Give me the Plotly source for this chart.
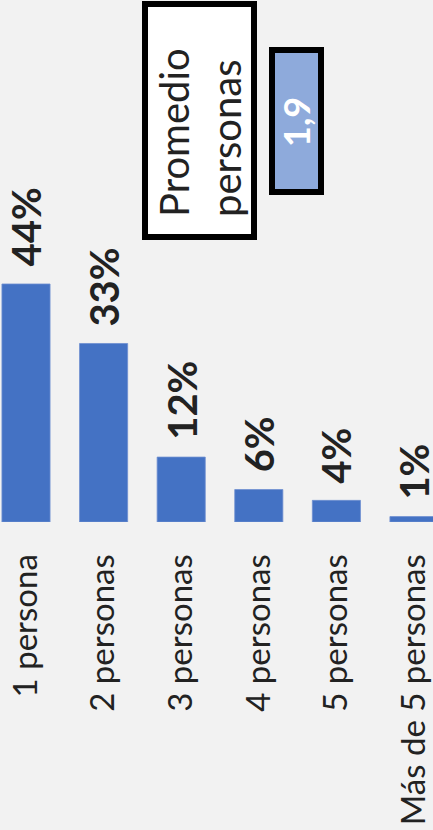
import plotly.graph_objects as go

categories = ["1 persona", "2 personas", "3 personas", "4 personas", "5 personas", "Más de 5 personas"]
values = [0.44, 0.33, 0.12, 0.06, 0.04, 0.01]
average_label = "Promedio<br>personas"
average_value = "1,9"

W, H = 433, 830
BOTTOM = 308
PH = H - BOTTOM
FONT = "Lato, 'Open Sans', sans-serif"
TXT = "#222222"

fig = go.Figure(go.Bar(
    x=categories, y=values,
    marker=dict(color="#4472C4", line=dict(color="#6f8fd0", width=0.8)),
    hoverinfo="skip",
))

for c, v in zip(categories, values):
    fig.add_annotation(x=c, y=v, xref="x", yref="y", text=f"<b>{round(v*100)}%</b>",
                       textangle=-90, showarrow=False, yanchor="bottom", xanchor="center",
                       yshift=15, font=dict(family=FONT, size=40, color=TXT))

def px(x):
    return x / W

def py(y):
    return 1 - y / PH

fig.add_shape(type="rect", xref="paper", yref="paper", x0=px(145), x1=px(254), y0=py(4), y1=py(237),
              fillcolor="white", line=dict(color="black", width=6), layer="above")
fig.add_shape(type="rect", xref="paper", yref="paper", x0=px(272), x1=px(321), y0=py(50), y1=py(192),
              fillcolor="#8EAADB", line=dict(color="black", width=6), layer="above")
fig.add_annotation(xref="paper", yref="paper", x=px(200), y=py(133), text=average_label,
                   textangle=-90, align="left", showarrow=False, xanchor="center", yanchor="middle",
                   font=dict(family=FONT, size=40, color=TXT))
fig.add_annotation(xref="paper", yref="paper", x=px(296), y=py(122), text=f"<b>{average_value}</b>",
                   textangle=-90, showarrow=False, xanchor="center", yanchor="middle",
                   font=dict(family=FONT, size=36, color="white"))

fig.update_layout(
    width=W, height=H,
    margin=dict(l=0, r=0, t=0, b=BOTTOM, pad=0, autoexpand=False),
    paper_bgcolor="#F2F2F2", plot_bgcolor="#F2F2F2",
    bargap=0.38, showlegend=False,
    xaxis=dict(range=[-0.335, 5.245], tickangle=-90, ticks="outside", ticklen=18,
               tickcolor="rgba(0,0,0,0)", showline=False, showgrid=False, zeroline=False,
               automargin=False,
               tickfont=dict(family=FONT, size=33, color=TXT), fixedrange=True),
    yaxis=dict(range=[0, 0.965], visible=False, fixedrange=True, automargin=False),
)

fig.write_html("out.html", config={"displayModeBar": False},
               post_script="document.body.style.margin='0';document.body.style.overflow='hidden';"
                           "document.documentElement.style.background='#F2F2F2';")
